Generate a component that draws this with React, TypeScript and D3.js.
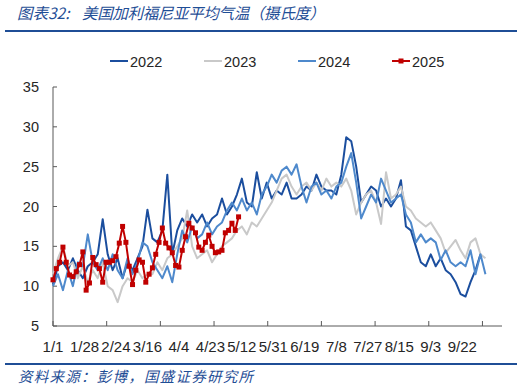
import * as d3 from "d3";
import React from "react";

// x axis is a category (row) axis; labels every 19 rows, tick marks about every 32 rows
const xLabels = ["1/1", "1/28", "2/24", "3/16", "4/4", "4/23", "5/12", "5/31", "6/19", "7/8", "7/27", "8/15", "9/3", "9/22"];
const yTicks = [5, 10, 15, 20, 25, 30, 35];
const years = ["2022", "2023", "2024", "2025"];

// 2022-2024 read every 3 rows, 2025 every 2 rows
const t2022 = [10.2, 12.5, 13, 12, 13.5, 12, 11, 12.5, 13, 14, 18.4, 14, 12, 13.5, 11, 13, 12, 13.5, 15, 19.6,
  16, 15.5, 17, 24, 14, 17, 18.5, 17.5, 19, 18, 19, 17.5, 18.5, 19, 21, 19, 20, 21.5, 23.5, 20.5,
  20, 24.3, 21, 23, 21, 22, 21.5, 23, 21, 21, 21.5, 22.5, 22, 24, 22.5, 22, 22, 21.5, 24, 28.7,
  28.2, 25, 20.5, 21.5, 22.5, 22, 20, 21, 20, 21, 23.3, 17.5, 17, 15, 13, 12.5, 14, 12.5, 13.5, 12,
  11.5, 10.5, 9, 8.7, 10.5, 12, 14];
const t2023 = [11.5, 13.5, 15, 12.5, 13, 11, 12.5, 10.5, 12, 11, 13, 10, 9.5, 8, 10, 11, 10.5, 12, 11, 11.5,
  11.5, 13, 12, 13.5, 14, 15, 16, 19.5, 15, 13.5, 14, 14.5, 13, 14, 15, 15.5, 16, 17, 17.5, 16.5,
  18, 17.5, 18.5, 19.5, 20.5, 22, 23.5, 24, 22.5, 21.5, 22.5, 23, 22, 23, 22, 23.5, 22.5, 23, 22.5, 23.5,
  22, 19, 20.5, 21.5, 22, 20.5, 17.8, 24.3, 21, 21.5, 22.5, 20, 19.5, 18.5, 18, 17.5, 18, 17, 16, 14.2,
  15, 15.8, 14.5, 13.5, 15.5, 16, 14, 13.5];
const t2024 = [10, 11.5, 9.5, 12, 10, 13, 12.5, 16.5, 13, 12, 13.5, 12, 14, 12, 11, 13.5, 11.5, 13, 15.5, 15,
  13, 12, 11, 12.5, 10.5, 14, 17, 15.5, 17.5, 16, 16.5, 18, 16.5, 17.5, 18, 19.5, 20.5, 19.5, 21, 19.5,
  20.5, 19, 21.5, 22.5, 24, 23, 24.5, 25, 24, 25.3, 22.5, 20.5, 22.5, 23, 21.5, 22, 21, 22.5, 23, 25,
  26.7, 23, 18.5, 20, 21.5, 20.5, 23.5, 22, 20.5, 21, 21.5, 19, 18, 15.5, 16.5, 15.5, 16, 15.5, 13.3, 14.5,
  13, 12.5, 13, 12.5, 14.5, 11.5, 14, 11.5];
const t2025 = [10.8, 12.2, 13, 14.9, 13, 11.4, 11.2, 11.8, 12.7, 14.3, 9.5, 10.4, 13.6, 12.7, 12.2, 10.5, 13, 13, 13.2, 13.7,
  15.4, 17.5, 15.5, 12.5, 10.2, 12, 13.3, 13, 10.5, 11.5, 12.3, 14, 15.5, 17.3, 15.4, 14.8, 14.2, 12.6, 12.4, 14.5,
  16.2, 17.9, 17.3, 16.7, 14.9, 14.5, 15.5, 16.4, 15, 14.2, 14.3, 14.5, 16.7, 17, 17.9, 17, 18.7];

const seriesValues = [t2022, t2023, t2024, t2025];
const seriesStep = [3, 3, 3, 2];
const colors = ["#1B4E9E", "#C9C9C9", "#4E89CC", "#C00000"];

const W = 532, H = 390;
const plot = { left: 53, right: 502, top: 87, bottom: 326 };
const nRows = 271;
const labelEvery = 19;
const tickEvery = 32.4;
const numFont = "'Liberation Sans', Arial, sans-serif";
const cjkFont = "'Noto Sans CJK SC', sans-serif";
const blue = "#1F4E96";

export default function App() {
  const x = d3.scaleLinear().domain([0, nRows]).range([plot.left, plot.right]);
  const y = d3.scaleLinear().domain([5, 35]).range([plot.bottom, plot.top]);

  const series = years.map((yr, s) => ({
    year: yr,
    color: colors[s],
    pts: seriesValues[s].map((v, i) => [i * seriesStep[s], v] as [number, number]),
  }));
  const line = d3.line<[number, number]>().x((d) => x(d[0])).y((d) => y(d[1]));
  const xTicks = d3.range(0, nRows, tickEvery);

  return (
    <svg width={W} height={H} style={{ position: "absolute", left: 0, top: 0, background: "#fff" }}>
      {/* header */}
      <text x={17} y={19} fontFamily={cjkFont} fontSize={15.5} fontStyle="italic" fill={blue}>图表32:</text>
      <text x={82} y={19} fontFamily={cjkFont} fontSize={15.5} fontStyle="italic" fill={blue}
        textLength={243} lengthAdjust="spacing">
        美国加利福尼亚平均气温（摄氏度）
      </text>
      <line x1={5} x2={517} y1={31} y2={31} stroke={blue} strokeWidth={2} />

      {/* legend */}
      {series.map((s, i) => {
        const lx = 110 + i * 94;
        return (
          <g key={s.year}>
            <line x1={lx} x2={lx + 18} y1={61} y2={61} stroke={s.color} strokeWidth={2} />
            {s.year === "2025" && <rect x={lx + 6.5} y={58.5} width={5} height={5} fill={s.color} />}
            <text x={lx + 20} y={66.5} fontFamily={numFont} fontSize={14.5} fill="#262626">{s.year}</text>
          </g>
        );
      })}

      {/* y axis */}
      <line x1={plot.left} x2={plot.left} y1={plot.top} y2={plot.bottom} stroke="#595959" strokeWidth={1} />
      {yTicks.map((t) => (
        <g key={t}>
          <line x1={plot.left} x2={plot.left + 4} y1={y(t)} y2={y(t)} stroke="#595959" />
          <text x={39} y={y(t) + 5} textAnchor="end" fontFamily={numFont} fontSize={14.5} fill="#262626">{t}</text>
        </g>
      ))}

      {/* x axis */}
      <line x1={plot.left} x2={plot.right} y1={plot.bottom} y2={plot.bottom} stroke="#595959" strokeWidth={1} />
      {xTicks.map((t) => (
        <line key={t} x1={x(t)} x2={x(t)} y1={plot.bottom} y2={plot.bottom - 5} stroke="#595959" />
      ))}
      {xLabels.map((l, i) => (
        <text key={l} x={x(i * labelEvery)} y={352} textAnchor="middle" fontFamily={numFont} fontSize={15} fill="#262626">{l}</text>
      ))}

      {/* series */}
      {series.map((s) => (
        <path key={s.year} d={line(s.pts) || ""} fill="none" stroke={s.color} strokeWidth={2} strokeLinejoin="round" />
      ))}
      {series[3].pts.map((d, i) => (
        <rect key={i} x={x(d[0]) - 2.5} y={y(d[1]) - 2.5} width={5} height={5} fill={colors[3]} />
      ))}

      {/* footer */}
      <line x1={5} x2={517} y1={364} y2={364} stroke={blue} strokeWidth={2} />
      <text x={18} y={382} fontFamily={cjkFont} fontSize={14.5} fontStyle="italic" fill={blue}
        textLength={235} lengthAdjust="spacing">
        资料来源：彭博，国盛证券研究所
      </text>
    </svg>
  );
}
